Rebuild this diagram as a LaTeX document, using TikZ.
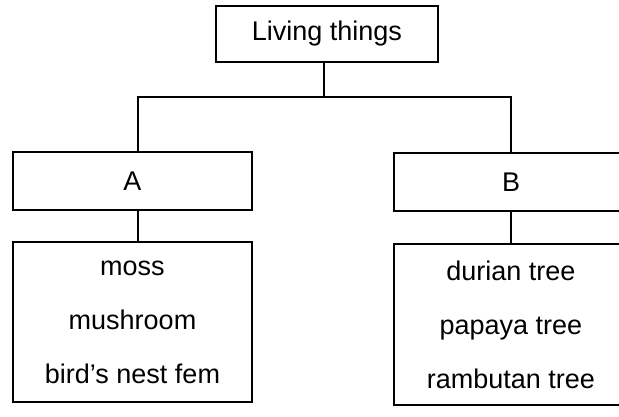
\documentclass[tikz,border=0pt]{standalone}
\usepackage{fontspec}
\setmainfont{Liberation Sans}
\usetikzlibrary{positioning}
\tikzset{
  box/.style={draw, line width=2pt, inner sep=0pt, font=\fontsize{27}{32}\selectfont},
  listbox/.style={box, align=center, font=\fontsize{27}{54}\selectfont},
  link/.style={line width=2pt}
}

\begin{document}
\begin{tikzpicture}[x=1pt, y=-1pt]
      \useasboundingbox (0,0) rectangle (619,416);
      \clip (0,0) rectangle (619,416);

      % Top box
      \node[box, minimum width=222pt, minimum height=56pt] (top) at (327,34) {Living things};

      % Groups
      \node[box, minimum width=239pt, minimum height=58pt] (A) at (132.5,181) {A};
      \node[box, minimum width=234pt, minimum height=58pt] (B) at (511,182) {B};

      % Lists
      \node[listbox, minimum width=239pt, minimum height=160pt] (listA) at (132.5,322)
        {moss\\mushroom\\bird's nest fem};
      \node[listbox, minimum width=234pt, minimum height=161pt] (listB) at (511,324.5)
        {durian tree\\papaya tree\\rambutan tree};

      % Connectors
      \coordinate (split) at (324,97);
      \draw[link] ([xshift=-3pt]top.south) -- (split);
      \draw[link] ([xshift=5pt]A.north) |- (split) -| (B.north);
      \draw[link] ([xshift=5pt]A.south) -- ([xshift=5pt]listA.north);
      \draw[link] (B.south) -- (listB.north);
\end{tikzpicture}
\end{document}
